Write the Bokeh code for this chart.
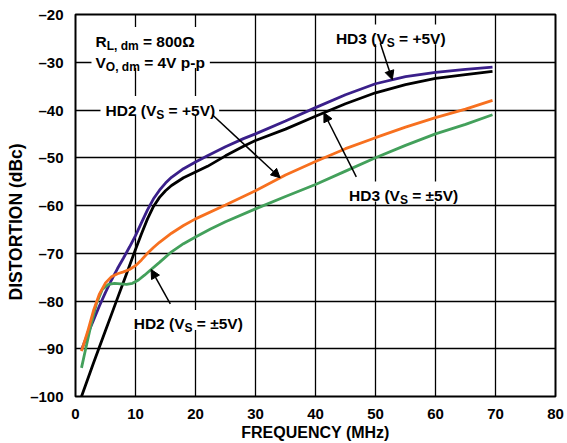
import numpy as np
from bokeh.plotting import figure
from bokeh.models import Label, Arrow, NormalHead, BoxAnnotation, SingleIntervalTicker, Title
from bokeh.embed import file_html
from bokeh.resources import INLINE

# Distortion vs. frequency, R_L,dm = 800 ohm, V_O,dm = 4 V p-p
hd3_p5_f = [1, 2, 3, 4, 5, 6, 7, 8, 9, 10, 11, 12, 13, 14, 15, 16, 18, 20, 22, 25, 28, 30, 35, 40, 45, 50, 55, 60, 65, 69.5]
hd3_p5_d = [-90.2, -87, -84, -81, -78.2, -75.6, -73.2, -71, -68.7, -66.3, -63.6, -60.9, -58.6, -56.8, -55.3, -54.1, -52.3, -50.9, -49.6, -47.7, -46, -45, -42.3, -39.5, -36.8, -34.5, -33, -32.1, -31.5, -31.0]

hd3_pm5_f = [1, 2, 3, 4, 5, 6, 7, 8, 9, 10, 11, 12, 13, 14, 15, 16, 18, 20, 22, 25, 28, 30, 35, 40, 45, 50, 55, 60, 65, 69.5]
hd3_pm5_d = [-100, -96.5, -93, -89.6, -86.2, -82.8, -79.4, -76, -72.6, -69.2, -65.9, -62.8, -60.2, -58.3, -56.9, -55.8, -54.2, -53, -51.8, -49.6, -47.6, -46.4, -44, -41.3, -38.7, -36.4, -34.7, -33.4, -32.6, -31.9]

hd2_p5_f = [1, 2, 3, 4, 5, 6, 7, 8, 9, 10, 11, 12, 13, 14, 16, 18, 20, 25, 30, 35, 40, 45, 50, 55, 60, 65, 69.5]
hd2_p5_d = [-90.5, -86.5, -82, -78.5, -76.2, -74.9, -74.3, -73.9, -73.4, -72.6, -71.4, -70, -68.8, -67.7, -65.8, -64.2, -62.8, -59.9, -56.9, -53.6, -50.8, -48.1, -45.8, -43.6, -41.6, -39.8, -38.0]

hd2_pm5_f = [1, 1.7, 2.5, 3.5, 4.5, 5.5, 6.5, 7.5, 8.5, 9.5, 10.5, 11.5, 12.5, 14, 16, 18, 20, 22.5, 25, 30, 35, 40, 45, 50, 55, 60, 65, 69.5]
hd2_pm5_d = [-94, -90, -85.5, -80.5, -77.5, -76.5, -76.3, -76.4, -76.5, -76.3, -75.6, -74.6, -73.5, -71.9, -69.7, -68, -66.6, -64.9, -63.4, -60.7, -58.1, -55.6, -52.8, -50, -47.4, -45, -43, -41]

x_ticks = [0, 10, 20, 30, 40, 50, 60, 70, 80]
y_ticks = [-100, -90, -80, -70, -60, -50, -40, -30, -20]

FONT = "Liberation Sans"
BLACK = "#000000"
PURPLE = "#3a1f8a"
ORANGE = "#f7701f"
GREEN = "#43a05b"
NBSP = "\u00a0"

W, H = 567, 443
BL, BR, BT, BB = 75, 12, 14, 45
X0, X1, Y0, Y1 = 0, 80, -100, -20
PX_X = (W - BL - BR) / (X1 - X0)   # pixels per MHz
PX_Y = (H - BT - BB) / (Y1 - Y0)   # pixels per dB

p = figure(width=W, height=H, x_range=(X0, X1), y_range=(Y0, Y1),
           output_backend="svg", toolbar_location=None,
           min_border_left=BL, min_border_right=BR,
           min_border_top=BT, min_border_bottom=BB)

p.outline_line_color = BLACK
p.outline_line_width = 2
p.background_fill_color = "white"
p.border_fill_color = "white"

p.xaxis.ticker = SingleIntervalTicker(interval=10)
p.yaxis.ticker = SingleIntervalTicker(interval=10)
p.yaxis.major_label_overrides = {v: ("\u2013" + str(-v)) if v < 0 else str(v) for v in y_ticks}
p.xaxis.major_label_overrides = {v: str(v) for v in x_ticks}
for ax in (p.xaxis, p.yaxis):
    ax.axis_line_color = None
    ax.major_tick_line_color = None
    ax.minor_tick_line_color = None
    ax.major_tick_out = 0
    ax.major_tick_in = 0
    ax.major_label_text_font = FONT
    ax.major_label_text_font_style = "bold"
    ax.major_label_text_font_size = "15px"
    ax.major_label_text_color = BLACK
p.xaxis.major_label_standoff = 8
p.yaxis.major_label_standoff = 8

p.xaxis.axis_label = "FREQUENCY (MHz)"
p.xaxis.axis_label_text_font = FONT
p.xaxis.axis_label_text_font_style = "bold"
p.xaxis.axis_label_text_font_size = "16px"
p.xaxis.axis_label_text_color = BLACK
p.xaxis.axis_label_standoff = 2

# vertical axis title, positioned from the bottom of the frame
p.add_layout(Title(text="DISTORTION (dBc)", align="left", offset=96, standoff=4,
                   text_font=FONT, text_font_style="bold", text_font_size="17.5px",
                   text_color=BLACK), "left")

for g in (p.xgrid, p.ygrid):
    g.grid_line_color = BLACK
    g.grid_line_width = 1.3
    g.grid_line_alpha = 1.0

# Approximate advance widths (per 1000 em) for the bold sans used in labels
ADV = {' ': 278, NBSP: 278, '(': 333, ')': 333, '+': 584, ',': 278, '-': 333, '=': 584,
       '\u00b1': 549, '\u03a9': 768, 'D': 722, 'H': 722, 'L': 611, 'O': 778,
       'R': 722, 'S': 667, 'V': 667, 'd': 611, 'm': 889, 'p': 611}


def text_width(s, size):
    return sum(ADV.get(c, 556) for c in s) * size / 1000.0


MAIN = 15.5
SUB = 12


def white_box(left, right, bottom, top):
    """Opaque backdrop that hides the grid behind a text block."""
    p.add_layout(BoxAnnotation(left=left, right=right, bottom=bottom, top=top,
                               fill_color="white", fill_alpha=1.0,
                               line_color=None, level="underlay"))


def rich_label(x, y, parts, mask=True):
    """Draw text with subscripts; x, y is the left baseline in data units."""
    off = 0.0
    for txt, sub in parts:
        size = SUB if sub else MAIN
        p.add_layout(Label(x=x, y=y, x_offset=off, y_offset=-4.5 if sub else 0,
                           text=txt, text_font=FONT, text_font_style="bold",
                           text_font_size=f"{size}px", text_color=BLACK,
                           text_align="left", text_baseline="alphabetic"))
        off += text_width(txt, size)
    if mask:
        white_box(x - 5 / PX_X, x + (off + 4) / PX_X, y - 6 / PX_Y, y + 14 / PX_Y)
    return off


# curves
p.line(hd3_pm5_f, hd3_pm5_d, line_color=BLACK, line_width=2.8)
p.line(hd3_p5_f, hd3_p5_d, line_color=PURPLE, line_width=2.8)
p.line(hd2_pm5_f, hd2_pm5_d, line_color=GREEN, line_width=2.8)
p.line(hd2_p5_f, hd2_p5_d, line_color=ORANGE, line_width=2.8)

# test conditions (one shared backdrop for both lines)
cond_x, cond_y1, cond_y2 = 3.33, -25.56, -29.95
w1 = rich_label(cond_x, cond_y1, [("R", False), ("L," + NBSP + "dm", True), (NBSP + "=" + NBSP + "800\u03a9", False)], mask=False)
w2 = rich_label(cond_x, cond_y2, [("V", False), ("O," + NBSP + "dm", True), (NBSP + "=" + NBSP + "4V p-p", False)], mask=False)
white_box(cond_x - 4 / PX_X, cond_x + (max(w1, w2) + 5) / PX_X, cond_y2 - 6 / PX_Y, cond_y1 + 14 / PX_Y)

# curve callouts
rich_label(5.0, -40.0, [("HD2 (V", False), ("S", True), (NBSP + "= +5V)", False)])
rich_label(43.4, -25.0, [("HD3 (V", False), ("S", True), (NBSP + "= +5V)", False)])
rich_label(45.6, -57.9, [("HD3 (V", False), ("S", True), (NBSP + "= \u00b15V)", False)])
rich_label(9.7, -84.8, [("HD2 (V", False), ("S", True), (NBSP + "= \u00b15V)", False)])


def callout(xs, ys, xe, f, d):
    ye = float(np.interp(xe, f, d))
    p.add_layout(Arrow(end=NormalHead(size=9, fill_color=BLACK, line_color=BLACK),
                       x_start=xs, y_start=ys, x_end=xe, y_end=ye,
                       line_color=BLACK, line_width=1.5))


callout(22.8, -41.0, 34.1, hd2_p5_f, hd2_p5_d)
callout(50.8, -26.0, 52.8, hd3_p5_f, hd3_p5_d)
callout(46.8, -54.0, 41.4, hd3_pm5_f, hd3_pm5_d)
callout(15.8, -80.6, 12.6, hd2_pm5_f, hd2_pm5_d)

open("out.html", "w").write(file_html(p, INLINE))
